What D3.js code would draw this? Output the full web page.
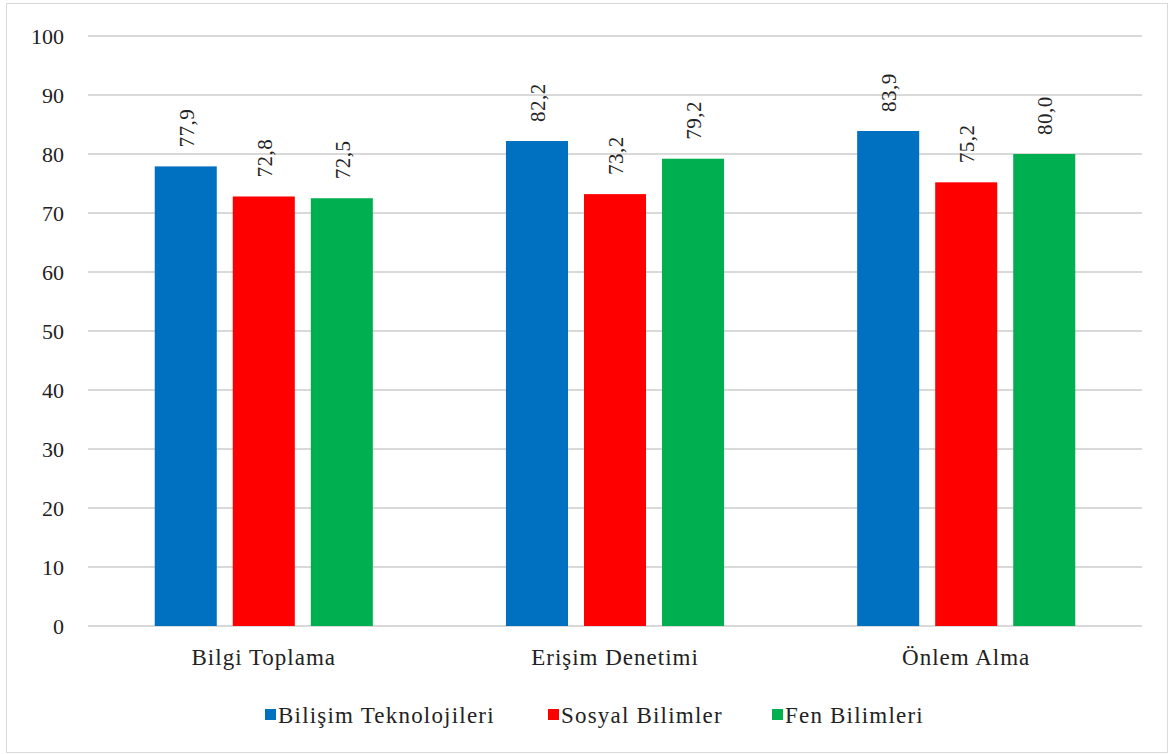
<!DOCTYPE html>
<html>
<head>
<meta charset="utf-8">
<script src="https://cdn.jsdelivr.net/npm/d3@7"></script>
<style>
  body { margin: 0; background: #fff; }
  svg text { font-family: "Liberation Serif", Tinos, "Times New Roman", "DejaVu Serif", serif; fill: #222; }
</style>
</head>
<body>
<div id="chart"></div>
<script>
// data
const categories = ["Bilgi Toplama", "Erişim Denetimi", "Önlem Alma"];
const seriesNames = ["Bilişim Teknolojileri", "Sosyal Bilimler", "Fen Bilimleri"];
const bilisim = [77.9, 82.2, 83.9];
const sosyal = [72.8, 73.2, 75.2];
const fen = [72.5, 79.2, 80.0];
const yTicks = [0, 10, 20, 30, 40, 50, 60, 70, 80, 90, 100];
const colors = ["#0070C0", "#FF0000", "#00B050"];

const W = 1169, H = 754;
const margin = { top: 36, left: 88, right: 27, bottom: 128 };
const width = W - margin.left - margin.right,
      height = H - margin.top - margin.bottom;

const svg = d3.select("#chart")
              .append("svg")
              .attr("width", W)
              .attr("height", H);

// chart border
svg.append("rect")
   .attr("x", 6.5).attr("y", 3.5)
   .attr("width", W - 8).attr("height", H - 5)
   .attr("fill", "none")
   .attr("stroke", "#d9d9d9")
   .attr("stroke-width", 1);

const g = svg.append("g")
             .attr("transform", "translate(" + margin.left + "," + margin.top + ")");

const x0 = d3.scaleBand()
             .domain(categories)
             .range([0, width])
             .paddingInner(0.379)
             .paddingOuter(0.19);

const x1 = d3.scaleBand()
             .domain(seriesNames)
             .range([0, x0.bandwidth()])
             .paddingInner(0.205);

const y = d3.scaleLinear()
            .domain([0, 100])
            .range([height, 0]);

// gridlines
g.selectAll(".grid")
 .data(yTicks)
 .enter().append("line")
 .attr("class", "grid")
 .attr("x1", 0).attr("x2", width)
 .attr("y1", d => y(d)).attr("y2", d => y(d))
 .attr("stroke", "#d9d9d9")
 .attr("stroke-width", 2);

// y axis labels
const yAxis = d3.axisLeft(y).tickValues(yTicks).tickSize(0).tickPadding(24);
g.append("g")
 .call(yAxis)
 .attr("font-family", null)
 .call(a => a.select(".domain").remove())
 .selectAll("text")
 .style("font-size", "22px")
 .attr("fill", "#222");

// x axis labels
const xAxis = d3.axisBottom(x0).tickSize(0).tickPadding(23);
g.append("g")
 .attr("transform", "translate(0," + height + ")")
 .call(xAxis)
 .attr("font-family", null)
 .call(a => a.select(".domain").remove())
 .selectAll("text")
 .style("font-size", "23px")
 .style("letter-spacing", "1px")
 .attr("fill", "#222");

const table = categories.map((c, i) => ({
  cat: c,
  vals: [bilisim[i], sosyal[i], fen[i]].map((v, j) => ({ name: seriesNames[j], value: v, color: colors[j] }))
}));

const groups = g.selectAll(".grp")
                .data(table)
                .enter().append("g")
                .attr("class", "grp")
                .attr("transform", d => "translate(" + x0(d.cat) + ",0)");

groups.selectAll("rect")
      .data(d => d.vals)
      .enter().append("rect")
      .attr("x", d => x1(d.name))
      .attr("y", d => y(d.value))
      .attr("width", x1.bandwidth())
      .attr("height", d => height - y(d.value))
      .attr("fill", d => d.color);

groups.selectAll(".lbl")
      .data(d => d.vals)
      .enter().append("text")
      .attr("class", "lbl")
      .attr("transform", d => "translate(" + (x1(d.name) + x1.bandwidth() / 2 + 8) + "," + (y(d.value) - 19) + ") rotate(-90)")
      .attr("text-anchor", "start")
      .style("font-size", "21px")
      .style("letter-spacing", "0.5px")
      .text(d => d3.format(".1f")(d.value).replace(".", ","));

// legend
const legendX = [265, 548, 772];
const legend = svg.selectAll(".leg")
                  .data(seriesNames)
                  .enter().append("g")
                  .attr("class", "leg")
                  .attr("transform", (d, i) => "translate(" + legendX[i] + ",709)");

legend.append("rect")
      .attr("width", 11).attr("height", 11)
      .attr("fill", (d, i) => colors[i]);

legend.append("text")
      .attr("x", 13).attr("y", 14)
      .style("font-size", "23px")
      .style("letter-spacing", "1.2px")
      .text(d => d);
</script>
</body>
</html>
